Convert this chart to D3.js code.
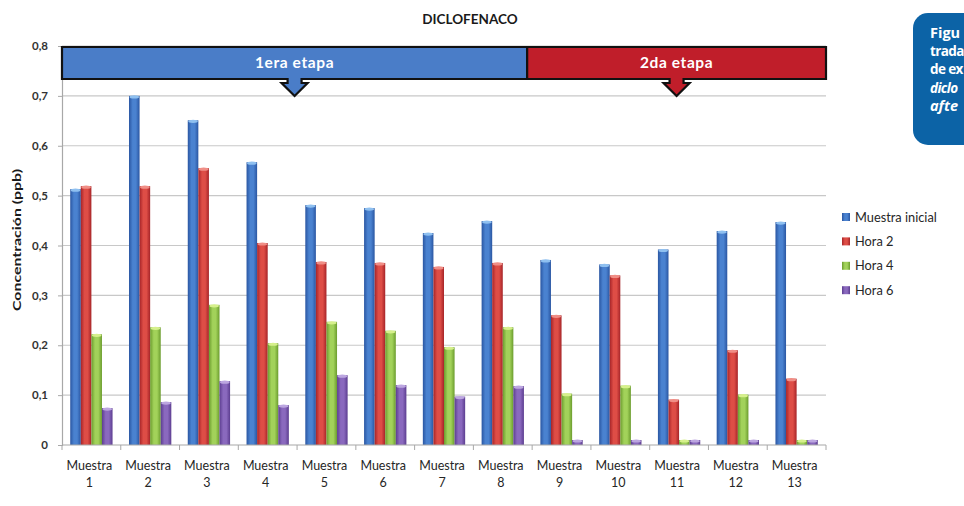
<!DOCTYPE html>
<html>
<head>
<meta charset="utf-8">
<script src="https://cdn.jsdelivr.net/npm/d3@7"></script>
<style>
  html, body { margin: 0; padding: 0; background: #fff; }
  svg { display: block; }
</style>
</head>
<body>
<svg id="chart" width="964" height="506"></svg>
<script>
// ---- data ----
const categories = ["Muestra 1","Muestra 2","Muestra 3","Muestra 4","Muestra 5","Muestra 6","Muestra 7",
                    "Muestra 8","Muestra 9","Muestra 10","Muestra 11","Muestra 12","Muestra 13"];
const seriesNames = ["Muestra inicial", "Hora 2", "Hora 4", "Hora 6"];
const muestraInicial = [0.513, 0.700, 0.651, 0.567, 0.481, 0.475, 0.425, 0.449, 0.371, 0.362, 0.392, 0.429, 0.447];
const hora2          = [0.519, 0.519, 0.555, 0.405, 0.367, 0.365, 0.357, 0.365, 0.260, 0.340, 0.091, 0.190, 0.133];
const hora4          = [0.222, 0.236, 0.281, 0.204, 0.247, 0.229, 0.196, 0.236, 0.103, 0.119, 0.010, 0.101, 0.010];
const hora6          = [0.074, 0.086, 0.128, 0.080, 0.140, 0.120, 0.097, 0.118, 0.010, 0.010, 0.010, 0.010, 0.010];
const yTicks = [0, 0.1, 0.2, 0.3, 0.4, 0.5, 0.6, 0.7, 0.8];
const stageLabels = ["1era etapa", "2da etapa"];
const stageLastCategory = ["Muestra 8", "Muestra 13"];
const title = "DICLOFENACO";
const yTitle = "Concentración (ppb)";
const captionLines = ["Figu", "trada", "de ex", "diclo", "afte"];

const seriesValues = [muestraInicial, hora2, hora4, hora6];
const colors = [
  { mid: "#4a82d0", edge: "#2a56a2", cap: "#8fc0f0" },
  { mid: "#de4d46", edge: "#a62428", cap: "#f08e86" },
  { mid: "#a2d25a", edge: "#6b9c2e", cap: "#d6f08c" },
  { mid: "#8a69be", edge: "#5c3d90", cap: "#bca6e0" }
];

const svg = d3.select("#chart");
const m = { left: 62, right: 826, top: 46, bottom: 445 };

const x = d3.scaleBand().domain(categories).range([m.left, m.right])
  .paddingInner(0.28).paddingOuter(0.14);
const xs = d3.scaleBand().domain(seriesNames).range([0, x.bandwidth()]);
const y = d3.scaleLinear().domain([0, 0.8]).range([m.bottom, m.top]);

const locale = d3.formatLocale({ decimal: ",", thousands: ".", grouping: [3], currency: ["", ""] });
const fmt = v => v === 0 ? "0" : locale.format(".1f")(v);

// gradients giving the bars a rounded look
const defs = svg.append("defs");
colors.forEach((c, i) => {
  const g = defs.append("linearGradient").attr("id", "grad" + i)
    .attr("x1", "0%").attr("x2", "100%").attr("y1", "0%").attr("y2", "0%");
  g.append("stop").attr("offset", "0%").attr("stop-color", c.edge);
  g.append("stop").attr("offset", "35%").attr("stop-color", c.mid);
  g.append("stop").attr("offset", "65%").attr("stop-color", c.mid);
  g.append("stop").attr("offset", "100%").attr("stop-color", c.edge);
});

// title
svg.append("text").attr("x", 470).attr("y", 24).attr("text-anchor", "middle")
  .attr("font-family", "Lato, sans-serif").attr("font-weight", 700).attr("font-size", 13.5)
  .attr("fill", "#1a1a1a").text(title);

// gridlines
svg.append("g").selectAll("line").data(yTicks.filter(t => t > 0)).join("line")
  .attr("x1", m.left).attr("x2", m.right)
  .attr("y1", d => y(d)).attr("y2", d => y(d))
  .attr("stroke", "#c8c8c8").attr("stroke-width", 1.2);

// y axis
const yAxis = svg.append("g").attr("transform", `translate(${m.left},0)`)
  .call(d3.axisLeft(y).tickValues(yTicks).tickFormat(fmt).tickSize(4).tickPadding(10));
yAxis.select(".domain").attr("stroke", "#a8a8a8").attr("stroke-width", 1.2);
yAxis.selectAll(".tick line").attr("stroke", "#a8a8a8");
yAxis.selectAll(".tick text").attr("font-family", "Lato, sans-serif").attr("font-size", 11.5)
  .attr("font-weight", 700).attr("fill", "#333");

// y title
svg.append("text").attr("transform", "translate(21,240) rotate(-90)")
  .attr("text-anchor", "middle").attr("font-family", "Lato, sans-serif")
  .attr("font-weight", 700).attr("font-size", 12).attr("fill", "#1a1a1a")
  .attr("textLength", 142).attr("lengthAdjust", "spacingAndGlyphs").text(yTitle);

// bars
const groups = svg.append("g").selectAll("g").data(categories).join("g")
  .attr("transform", d => `translate(${x(d)},0)`);
groups.each(function(cat, ci) {
  const g = d3.select(this);
  seriesNames.forEach((s, si) => {
    const v = seriesValues[si][ci];
    g.append("rect").attr("x", xs(s)).attr("width", xs.bandwidth())
      .attr("y", y(v)).attr("height", y(0) - y(v))
      .attr("fill", `url(#grad${si})`);
    g.append("ellipse").attr("cx", xs(s) + xs.bandwidth() / 2).attr("cy", y(v) + 1)
      .attr("rx", xs.bandwidth() / 2 - 0.5).attr("ry", 1.6)
      .attr("fill", colors[si].cap);
  });
});

// x axis
const xTickPos = d3.range(categories.length + 1).map(i => m.left + i * x.step());
svg.append("line").attr("x1", m.left).attr("x2", m.right).attr("y1", m.bottom).attr("y2", m.bottom)
  .attr("stroke", "#a8a8a8").attr("stroke-width", 1.2);
svg.append("g").selectAll("line").data(xTickPos).join("line")
  .attr("x1", d => d).attr("x2", d => d).attr("y1", m.bottom).attr("y2", m.bottom + 5)
  .attr("stroke", "#a8a8a8");
const xl = svg.append("g").selectAll("text").data(categories).join("text")
  .attr("text-anchor", "middle").attr("font-family", "Lato, sans-serif")
  .attr("font-size", 12.5).attr("fill", "#262626")
  .attr("x", d => x(d) + x.bandwidth() / 2 - 2);
xl.append("tspan").attr("y", 470).text(d => d.split(" ")[0]);
xl.append("tspan").attr("y", 487).attr("x", d => x(d) + x.bandwidth() / 2 - 2).text(d => d.split(" ")[1]);

// stage banners
const bannerTop = m.top + 1, bannerBottom = m.top + 33;
const split = x(stageLastCategory[0]) + x.step() - x.step() * x.paddingOuter() - 5;
const stages = [
  { label: stageLabels[0], x0: m.left, x1: split, fill: "#4a7dc8" },
  { label: stageLabels[1], x0: split, x1: m.right, fill: "#c01e2a" }
];
stages.forEach(st => {
  const cx = (st.x0 + st.x1) / 2;
  const pts = [
    [st.x0, bannerTop], [st.x1, bannerTop], [st.x1, bannerBottom],
    [cx + 7, bannerBottom], [cx + 7, bannerBottom + 4], [cx + 13, bannerBottom + 4],
    [cx, bannerBottom + 17],
    [cx - 13, bannerBottom + 4], [cx - 7, bannerBottom + 4], [cx - 7, bannerBottom],
    [st.x0, bannerBottom]
  ];
  svg.append("path").attr("d", d3.line()(pts) + "Z")
    .attr("fill", st.fill).attr("stroke", "#111").attr("stroke-width", 2.2)
    .attr("stroke-linejoin", "miter");
  svg.append("text").attr("x", cx).attr("y", bannerTop + 21).attr("text-anchor", "middle")
    .attr("font-family", "Lato, sans-serif").attr("font-size", 15.5).attr("font-weight", 700)
    .attr("fill", "#fff").attr("letter-spacing", 0.6).text(st.label);
});

// legend
const lg = svg.append("g").attr("transform", "translate(842,213)");
seriesNames.forEach((s, i) => {
  const row = lg.append("g").attr("transform", `translate(0,${i * 24.4})`);
  row.append("rect").attr("width", 8).attr("height", 8).attr("fill", `url(#grad${i})`);
  row.append("text").attr("x", 13).attr("y", 8.5).attr("font-family", "Lato, sans-serif")
    .attr("font-size", 12.8).attr("fill", "#262626").text(s);
});

// caption box on the right edge
svg.append("rect").attr("x", 913).attr("y", 13).attr("width", 80).attr("height", 132)
  .attr("rx", 15).attr("fill", "#0c63a6");
const cap = svg.append("g").attr("font-family", "'Open Sans', sans-serif").attr("font-size", 14.5)
  .attr("font-weight", 700).attr("fill", "#fff");
captionLines.forEach((t, i) => {
  cap.append("text").attr("x", 930).attr("y", 38 + i * 18.2)
    .attr("font-style", i >= 3 ? "italic" : "normal")
    .attr("letter-spacing", t.length > 4 ? -0.6 : 0)
    .attr("font-size", t.length > 4 ? 13.5 : 14.5)
    .text(t);
});
</script>
</body>
</html>
